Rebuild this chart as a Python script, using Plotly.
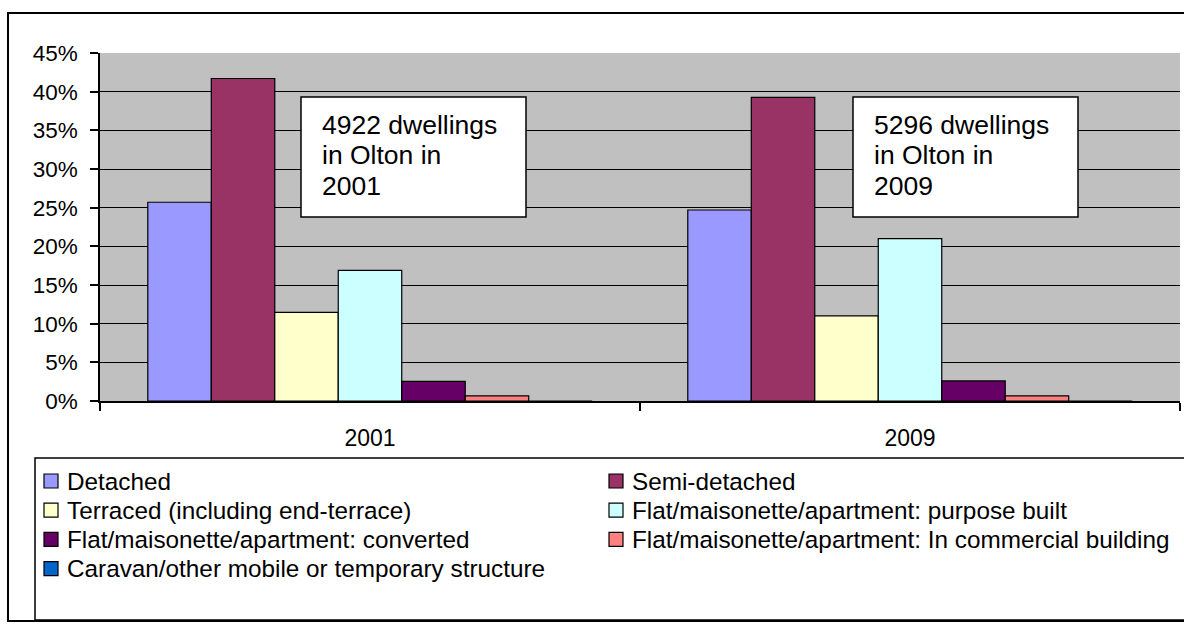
import plotly.graph_objects as go

years = ["2001", "2009"]
series_names = [
    "Detached",
    "Semi-detached",
    "Terraced (including end-terrace)",
    "Flat/maisonette/apartment: purpose built",
    "Flat/maisonette/apartment: converted",
    "Flat/maisonette/apartment: In commercial building",
    "Caravan/other mobile or temporary structure",
]
detached = [0.257, 0.247]
semi_detached = [0.417, 0.3925]
terraced = [0.1145, 0.110]
flat_purpose = [0.169, 0.210]
flat_converted = [0.0255, 0.026]
flat_commercial = [0.0065, 0.0065]
caravan = [0.0, 0.0]
series_values = [detached, semi_detached, terraced, flat_purpose,
                 flat_converted, flat_commercial, caravan]
colors = ["#9999FF", "#993366", "#FFFFCC", "#CCFFFF", "#660066", "#FF8080", "#0066CC"]
y_ticks = [0, 0.05, 0.10, 0.15, 0.20, 0.25, 0.30, 0.35, 0.40, 0.45]
y_tick_labels = ["0%", "5%", "10%", "15%", "20%", "25%", "30%", "35%", "40%", "45%"]
notes = [["4922 dwellings", "in Olton in", "2001"],
         ["5296 dwellings", "in Olton in", "2009"]]

FONT = "Arial, Liberation Sans, sans-serif"
W, H = 1184, 624
ML, MR, MT, MB = 100, 4, 53, 223
PW = W - ML - MR
PH = H - MT - MB


def px_x(p):
    return (p - ML) / PW


def px_y(p):
    return (H - MB - p) / PH


fig = go.Figure()
for name, vals, col in zip(series_names, series_values, colors):
    fig.add_trace(go.Bar(
        x=years, y=vals, name=name,
        marker=dict(color=col, line=dict(color="black", width=1.2)),
        showlegend=False,
    ))

shapes = []
annotations = []
# outer chart border (right side runs off the image)
shapes.append(dict(type="rect", xref="paper", yref="paper",
                   x0=px_x(8), x1=px_x(1300), y0=px_y(621), y1=px_y(13),
                   line=dict(color="black", width=2), layer="below"))
# legend box
shapes.append(dict(type="rect", xref="paper", yref="paper",
                   x0=px_x(35), x1=px_x(1300), y0=px_y(620), y1=px_y(458),
                   line=dict(color="black", width=1.5), layer="below"))

# legend entries (two columns, row-wise)
col_x = [51, 616]
row_y0, row_dy = 481, 29.2
sq = 7
for i, (name, col) in enumerate(zip(series_names, colors)):
    cx = col_x[i % 2]
    cy = row_y0 + (i // 2) * row_dy
    shapes.append(dict(type="rect", xref="paper", yref="paper",
                       x0=px_x(cx - sq), x1=px_x(cx + sq),
                       y0=px_y(cy + sq), y1=px_y(cy - sq),
                       fillcolor=col, line=dict(color="black", width=1.2)))
    annotations.append(dict(xref="paper", yref="paper",
                            x=px_x(cx + 14), y=px_y(cy),
                            xanchor="left", yanchor="middle", align="left",
                            text=name, showarrow=False,
                            font=dict(family=FONT, size=24.3, color="black")))

boxes = [(301, 526), (853, 1078)]
line_centers = [124.5, 155, 185.5]
for (bx0, bx1), lines in zip(boxes, notes):
    shapes.append(dict(type="rect", xref="paper", yref="paper",
                       x0=px_x(bx0), x1=px_x(bx1), y0=px_y(217), y1=px_y(97),
                       fillcolor="white", line=dict(color="black", width=1.5),
                       layer="above"))
    for txt, cy in zip(lines, line_centers):
        annotations.append(dict(xref="paper", yref="paper",
                                x=px_x(bx0 + 19), y=px_y(cy),
                                xanchor="left", yanchor="middle", align="left",
                                text=txt, showarrow=False,
                                font=dict(family=FONT, size=26.5, color="black")))

fig.update_layout(
    width=W, height=H,
    margin=dict(l=ML, r=MR, t=MT, b=MB, pad=0),
    paper_bgcolor="white",
    plot_bgcolor="#C0C0C0",
    barmode="group",
    bargap=0.177,
    bargroupgap=0,
    font=dict(family=FONT, size=22, color="black"),
    showlegend=False,
    shapes=shapes,
    annotations=annotations,
    xaxis=dict(
        type="category",
        showline=True, linecolor="black", linewidth=1.5,
        ticks="outside", ticklen=8, tickwidth=1.5, tickcolor="black",
        tickson="boundaries",
        showgrid=False,
        ticklabelstandoff=16,
        tickfont=dict(family=FONT, size=23, color="black"),
        mirror=False,
    ),
    yaxis=dict(
        range=[0, 0.45],
        tickvals=y_ticks, ticktext=y_tick_labels,
        showline=True, linecolor="black", linewidth=1.5,
        ticks="outside", ticklen=8, tickwidth=1.5, tickcolor="black",
        showgrid=True, gridcolor="black", gridwidth=1.2,
        zeroline=False,
        tickfont=dict(family=FONT, size=22.5, color="black"),
        ticklabelstandoff=8,
    ),
)

fig.write_html(
    "out.html", config={"displayModeBar": False},
    post_script="document.body.style.margin='0';"
                "document.body.style.overflow='hidden';"
                "document.documentElement.style.overflow='hidden';",
)
